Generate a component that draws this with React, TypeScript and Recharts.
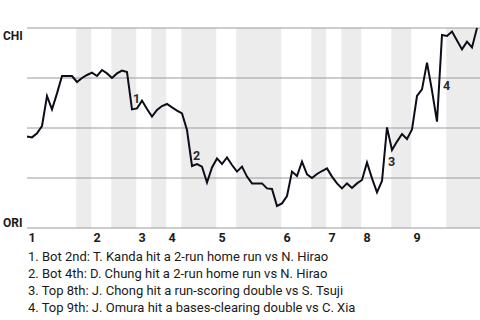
import { ComposedChart, Line, XAxis, YAxis, ReferenceArea, ReferenceDot, ReferenceLine } from "recharts";

// win probability for CHI after each play (0 = ORI, 1 = CHI)
const winProb = [
  0.457, 0.453, 0.473, 0.51, 0.66, 0.593, 0.673, 0.76, 0.76, 0.76,
  0.73, 0.75, 0.765, 0.777, 0.76, 0.79, 0.773, 0.75, 0.773, 0.787,
  0.78, 0.593, 0.598, 0.637, 0.595, 0.557, 0.59, 0.61, 0.62, 0.603,
  0.587, 0.573, 0.49, 0.31, 0.32, 0.307, 0.227, 0.303, 0.348, 0.32,
  0.353, 0.315, 0.282, 0.307, 0.257, 0.223, 0.223, 0.223, 0.198, 0.195,
  0.11, 0.123, 0.16, 0.282, 0.26, 0.332, 0.268, 0.25, 0.27, 0.285,
  0.298, 0.257, 0.223, 0.198, 0.223, 0.2, 0.223, 0.24, 0.328, 0.248,
  0.178, 0.235, 0.503, 0.39, 0.432, 0.47, 0.445, 0.493, 0.66, 0.693,
  0.827, 0.687, 0.532, 0.965, 0.96, 0.982, 0.937, 0.893, 0.932, 0.903,
  1.0,
];

// play index where each inning (top half) starts
const inningStarts = [0, 13, 22, 28, 38, 51, 60, 67, 77];
// play index where each bottom half starts
const bottomStarts = [10, 17, 25, 31, 42, 57, 63, 73, 84];
const inningLabels = ["1", "2", "3", "4", "5", "6", "7", "8", "9"];

const yTicks = [0, 0.25, 0.5, 0.75, 1];
const teamLabels: Record<number, string> = { 0: "ORI", 1: "CHI" };

// key plays: label + the play where the swing lands
const keyPlays = [
  { n: "1", at: 21 },
  { n: "2", at: 33 },
  { n: "3", at: 72 },
  { n: "4", at: 83 },
];
const keyPlayNotes = [
  "1. Bot 2nd: T. Kanda hit a 2-run home run vs N. Hirao",
  "2. Bot 4th: D. Chung hit a 2-run home run vs N. Hirao",
  "3. Top 8th: J. Chong hit a run-scoring double vs S. Tsuji",
  "4. Top 9th: J. Omura hit a bases-clearing double vs C. Xia",
];

const data = winProb.map((p, i) => ({ play: i, p }));
const lastPlay = winProb.length - 1;
const xMax = lastPlay + 0.6;
const font = "Roboto, 'Noto Sans', sans-serif";

function TeamTick(props: any) {
  const v = props.payload.value;
  const label = teamLabels[v];
  if (!label) return null;
  return (
    <text x={3} y={v === 1 ? props.y + 12 : props.y - 1} fontFamily={font} fontWeight={700} fontSize={12} fill="#1a1a1a">
      {label}
    </text>
  );
}

function InningTick(props: any) {
  const idx = inningStarts.indexOf(props.payload.value);
  return (
    <text x={props.x + 1.5} y={242} fontFamily={font} fontWeight={700} fontSize={12.5} fill="#1a1a1a">
      {inningLabels[idx]}
    </text>
  );
}

export default function App() {
  const bands = bottomStarts.map((s) => {
    const next = inningStarts.find((t) => t > s);
    return [s - 0.15, next !== undefined ? next - 0.15 : xMax];
  });
  return (
    <div style={{ position: "fixed", left: 0, top: 0, width: 480, height: 320, background: "#fff" }}>
      <ComposedChart width={480} height={320} data={data} margin={{ top: 28, right: 0, bottom: 62, left: 0 }}>
        {bands.map(([a, b], i) => (
          <ReferenceArea key={i} x1={a} x2={b} y1={0} y2={1} fill="#ececec" fillOpacity={1} stroke="none" ifOverflow="visible" />
        ))}
        {yTicks.map((t) => (
          <ReferenceLine key={t} y={t} stroke="#9a9a9a" strokeWidth={1} ifOverflow="visible" />
        ))}
        <XAxis
          dataKey="play"
          type="number"
          domain={[0, xMax]}
          ticks={inningStarts}
          interval={0}
          axisLine={false}
          tickLine={false}
          height={30}
          tick={<InningTick />}
        />
        <YAxis
          type="number"
          domain={[0, 1]}
          ticks={yTicks}
          width={27}
          axisLine={false}
          tickLine={false}
          tick={<TeamTick />}
        />
        <Line
          type="linear"
          dataKey="p"
          stroke="#0d0d1a"
          strokeWidth={2}
          dot={false}
          isAnimationActive={false}
        />
        {keyPlays.map((k) => (
          <ReferenceDot
            key={k.n}
            x={k.at}
            y={(winProb[k.at - 1] + winProb[k.at]) / 2}
            r={0}
            ifOverflow="visible"
            shape={(p: any) => (
              <text x={p.cx + 1} y={p.cy + 12} fontFamily={font} fontWeight={700} fontSize={12.5} fill="#2a2a2a">
                {k.n}
              </text>
            )}
          />
        ))}
      </ComposedChart>
      <div style={{ position: "absolute", left: 28, top: 248, fontFamily: font, fontSize: 13, lineHeight: "17px", color: "#1a1a1a" }}>
        {keyPlayNotes.map((t) => (
          <div key={t} style={{ whiteSpace: "nowrap" }}>{t}</div>
        ))}
      </div>
    </div>
  );
}
